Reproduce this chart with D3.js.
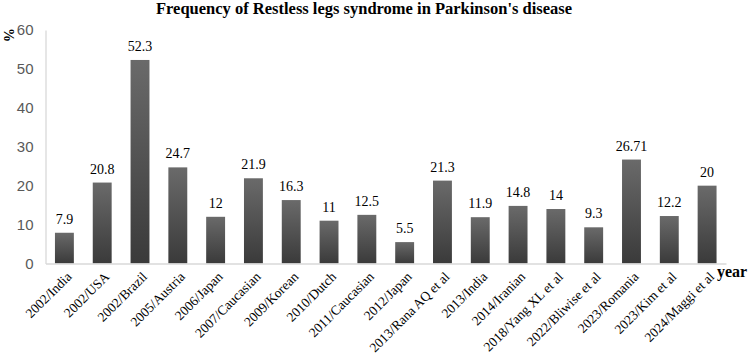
<!DOCTYPE html>
<html><head><meta charset="utf-8">
<script src="https://cdn.jsdelivr.net/npm/d3@7"></script>
<style>body{margin:0;background:#fff}svg{display:block}</style>
</head><body>
<svg id="c" width="749" height="357"></svg>
<script>
const categories = ["2002/India","2002/USA","2002/Brazil","2005/Austria","2006/Japan","2007/Caucasian","2009/Korean","2010/Dutch","2011/Caucasian","2012/Japan","2013/Rana AQ et al","2013/India","2014/Iranian","2018/Yang XL et al","2022/Bliwise et al","2023/Romania","2023/Kim et al","2024/Maggi et al"];
const values = [7.9,20.8,52.3,24.7,12,21.9,16.3,11,12.5,5.5,21.3,11.9,14.8,14,9.3,26.71,12.2,20];
const labels = ["7.9","20.8","52.3","24.7","12","21.9","16.3","11","12.5","5.5","21.3","11.9","14.8","14","9.3","26.71","12.2","20"];
const yTicks = [0,10,20,30,40,50,60];

const svg = d3.select("#c");
const m = {l:45.5, r:726, t:30, b:263.5};
const x = d3.scaleBand().domain(categories).range([m.l, m.r]).paddingInner(0.5).paddingOuter(0.25);
const y = d3.scaleLinear().domain([0,60]).range([m.b, m.t]);

const defs = svg.append("defs");
const g = defs.append("linearGradient").attr("id","bg").attr("x1",0).attr("y1",0).attr("x2",0).attr("y2",1);
g.append("stop").attr("offset","0%").attr("stop-color","#6a6a6a");
g.append("stop").attr("offset","100%").attr("stop-color","#3a3a3a");

// title
svg.append("text").attr("x",364).attr("y",14).attr("text-anchor","middle")
  .attr("font-family","Liberation Serif").attr("font-weight","bold").attr("font-size",16.5)
  .text("Frequency of Restless legs syndrome in  Parkinson's disease");

// y axis
const ya = svg.append("g").attr("transform",`translate(${m.l},0)`)
  .call(d3.axisLeft(y).tickValues(yTicks).tickSize(0).tickPadding(12));
ya.select(".domain").attr("stroke","#d9d9d9").attr("stroke-width",1.3);
ya.selectAll("text").attr("font-family","Liberation Sans").attr("font-size",15).attr("fill","#595959");

// bars
svg.append("g").selectAll("rect").data(values).join("rect")
  .attr("x",(d,i)=>x(categories[i])).attr("width",x.bandwidth())
  .attr("y",d=>y(d)).attr("height",d=>y(0)-y(d)).attr("fill","url(#bg)");

// x axis
const xa = svg.append("g").attr("transform",`translate(0,${m.b})`)
  .call(d3.axisBottom(x).tickSize(0).tickPadding(0));
xa.select(".domain").attr("stroke","#d9d9d9").attr("stroke-width",1.5);
xa.selectAll("text").attr("font-family","Liberation Serif").attr("font-size",13.5).attr("fill","#000")
  .attr("text-anchor","end").attr("dy",0)
  .attr("transform","translate(8,14) rotate(-45)");

// data labels
svg.append("g").selectAll("text").data(values).join("text")
  .attr("x",(d,i)=>x(categories[i])+x.bandwidth()/2).attr("y",d=>y(d)-9)
  .attr("text-anchor","middle").attr("font-family","Liberation Serif").attr("font-size",14)
  .text((d,i)=>labels[i]);

// axis titles
svg.append("text").attr("x",717).attr("y",277).attr("font-family","Liberation Serif")
  .attr("font-weight","bold").attr("font-size",16).text("year");
svg.append("text").attr("transform","translate(4,28) rotate(90)").attr("font-family","Liberation Serif")
  .attr("font-weight","bold").attr("font-size",14).text("%");
</script>
</body></html>
